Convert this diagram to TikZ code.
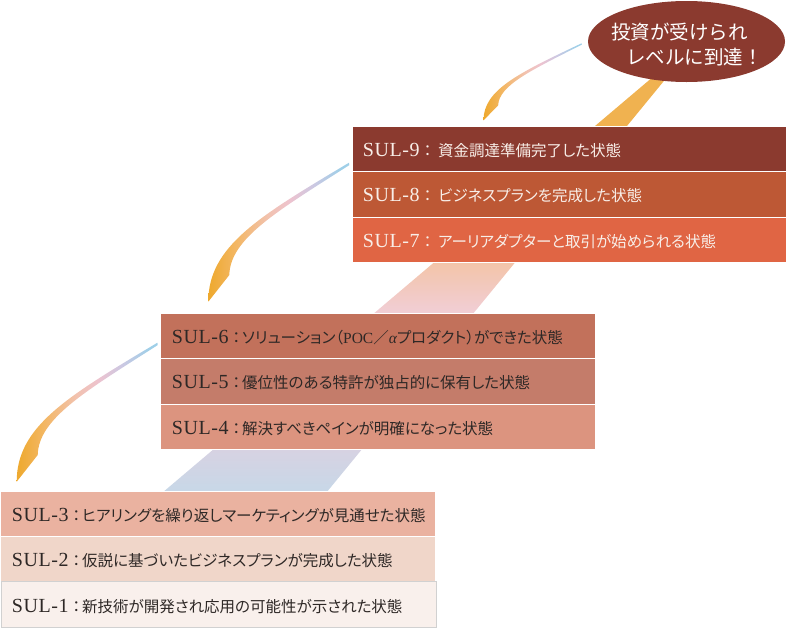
\documentclass[tikz,border=0pt]{standalone}
\usepackage{fontspec}
\setmainfont{Liberation Serif}
\newfontfamily\jp[RawFeature=+palt]{Noto Sans CJK JP}
\newfontfamily\jpn{Noto Sans CJK JP}
\newfontfamily\sulf[LetterSpace=3]{Liberation Serif}
\usetikzlibrary{shapes.geometric}
\definecolor{c9}{HTML}{8B3A2F}
\definecolor{c8}{HTML}{BD5835}
\definecolor{c7}{HTML}{E06544}
\definecolor{c6}{HTML}{C2715B}
\definecolor{c5}{HTML}{C47C6A}
\definecolor{c4}{HTML}{DC947F}
\definecolor{c3}{HTML}{EAB2A0}
\definecolor{c2}{HTML}{F0D6C9}
\definecolor{c1}{HTML}{F9F0EC}
\definecolor{lighttxt}{HTML}{F8EEE8}
\definecolor{darktxt}{HTML}{2E2826}
\definecolor{swA}{HTML}{EEA92E}
\definecolor{swB}{HTML}{F3B765}
\definecolor{swC}{HTML}{F2C2AE}
\definecolor{swD}{HTML}{EDC3CF}
\definecolor{swE}{HTML}{CDC8E2}
\definecolor{swF}{HTML}{9FCFE8}
\definecolor{bmA}{HTML}{F0B250}
\definecolor{bmB}{HTML}{F3C4A8}
\definecolor{bmC}{HTML}{F1CED6}
\definecolor{bmD}{HTML}{D7D2E2}
\definecolor{bmE}{HTML}{C6D8E8}
\pgfdeclarehorizontalshading{swooshshade}{100bp}{color(0bp)=(swA); color(25bp)=(swA); color(35bp)=(swB); color(46bp)=(swC); color(54bp)=(swD); color(62bp)=(swE); color(72bp)=(swF); color(100bp)=(swF)}
\pgfdeclareverticalshading{beamshade}{100bp}{color(0bp)=(bmE); color(25bp)=(bmE); color(30.3bp)=(bmD); color(45.9bp)=(bmC); color(51.8bp)=(bmB); color(60bp)=(bmA); color(100bp)=(bmA)}
\tikzset{
  rowbox/.style={rectangle, anchor=north west, inner sep=0pt, minimum height=45.3pt, draw=white, line width=1pt},
  toprow/.style={rowbox, minimum width=434pt},
  midrow/.style={rowbox, minimum width=435pt},
  botrow/.style={rowbox, minimum width=435pt},
  rowtext/.style={anchor=base west, inner sep=0pt},
  lighttext/.style={rowtext, text=lighttxt},
  darktext/.style={rowtext, text=darktxt},
  swooshfill/.style={shading=swooshshade},
}
\newcommand{\sul}[1]{{\sulf\fontsize{20}{24}\selectfont SUL-#1}}
\newcommand{\jtxt}[1]{{\jp\fontsize{15.5}{18}\selectfont #1}}
\newcommand{\jfw}[1]{{\jpn #1}}
\newcommand{\colA}{{\jpn\fontsize{15.5}{18}\selectfont ：}\hspace{3pt}}
\newcommand{\colB}{{\jpn\fontsize{15.5}{18}\selectfont ：}\hspace{-2pt}}
\newcommand{\swooshpath}{(0,0) .. controls (0,-55) and (50,-85) .. (140.7,-139) -- (141,-136.6) .. controls (68,-90) and (22,-63) .. (21,-26.7) -- cycle}
\begin{document}
\begin{tikzpicture}[x=1pt,y=-1pt]
\useasboundingbox (0,0) rectangle (786,627);
% beam
\shade[shading=beamshade] (672.9,60) -- (681.1,60) -- (324.4,495) -- (159.6,495) -- cycle;
% swooshes
\begin{scope}[shift={(483.5,120.3)}, xscale=0.697, yscale=0.554]
  \shade[swooshfill] \swooshpath;
\end{scope}
\begin{scope}[shift={(208.3,301.7)}]
  \shade[swooshfill] \swooshpath;
\end{scope}
\begin{scope}[shift={(16.7,481.7)}]
  \shade[swooshfill] \swooshpath;
\end{scope}
% top group
\node[toprow, fill=c9] (r9) at (352,126) {};
\node[toprow, fill=c8] (r8) at (352,171.3) {};
\node[toprow, fill=c7] (r7) at (352,216.7) {};
% middle group
\node[midrow, fill=c6] (r6) at (160,313) {};
\node[midrow, fill=c5] (r5) at (160,358.3) {};
\node[midrow, fill=c4] (r4) at (160,403.7) {};
% bottom group
\node[botrow, fill=c3] (r3) at (0,491) {};
\node[botrow, fill=c2] (r2) at (0,536.2) {};
\node[botrow, fill=c1, draw=black!18] (r1) at (0.5,581.4) {};
% texts
\node[lighttext] (t9) at ([xshift=10.7pt,yshift=-7.5pt]r9.west) {\sul{9}\colA\jtxt{資金調達準備完了した状態}};
\node[lighttext] (t8) at ([xshift=10.7pt,yshift=-7.5pt]r8.west) {\sul{8}\colA\jtxt{ビジネスプランを完成した状態}};
\node[lighttext] (t7) at ([xshift=10.7pt,yshift=-7.5pt]r7.west) {\sul{7}\colA\jtxt{アーリアダプターと取引が始められる状態}};
\node[darktext] (t6) at ([xshift=11.7pt,yshift=-7.5pt]r6.west) {\sul{6}\colB\jtxt{ソリューション（{\rmfamily POC}\jfw{／}{\rmfamily\itshape α}プロダクト）ができた状態}};
\node[darktext] (t5) at ([xshift=11.7pt,yshift=-7.5pt]r5.west) {\sul{5}\colB\jtxt{優位性のある特許が独占的に保有した状態}};
\node[darktext] (t4) at ([xshift=11.7pt,yshift=-7.5pt]r4.west) {\sul{4}\colB\jtxt{解決すべきペインが明確になった状態}};
\node[darktext] (t3) at ([xshift=11.7pt,yshift=-7.5pt]r3.west) {\sul{3}\colB\jtxt{ヒアリングを繰り返しマーケティングが見通せた状態}};
\node[darktext] (t2) at ([xshift=11.7pt,yshift=-7.5pt]r2.west) {\sul{2}\colB\jtxt{仮説に基づいたビジネスプランが完成した状態}};
\node[darktext] (t1) at ([xshift=11.2pt,yshift=-7.5pt]r1.west) {\sul{1}\colB\jtxt{新技術が開発され応用の可能性が示された状態}};
% goal ellipse
\node[ellipse, fill=c9, minimum width=197pt, minimum height=81pt, inner sep=0pt] (goal) at (686.5,41.5) {};
\node[text=white, align=left, inner sep=0pt, font=\jpn\fontsize{19.5}{25}\selectfont] (goaltext) at (687,45) {投資が受けられ\\\hspace{0.75em}レベルに到達！};
\end{tikzpicture}
\end{document}
